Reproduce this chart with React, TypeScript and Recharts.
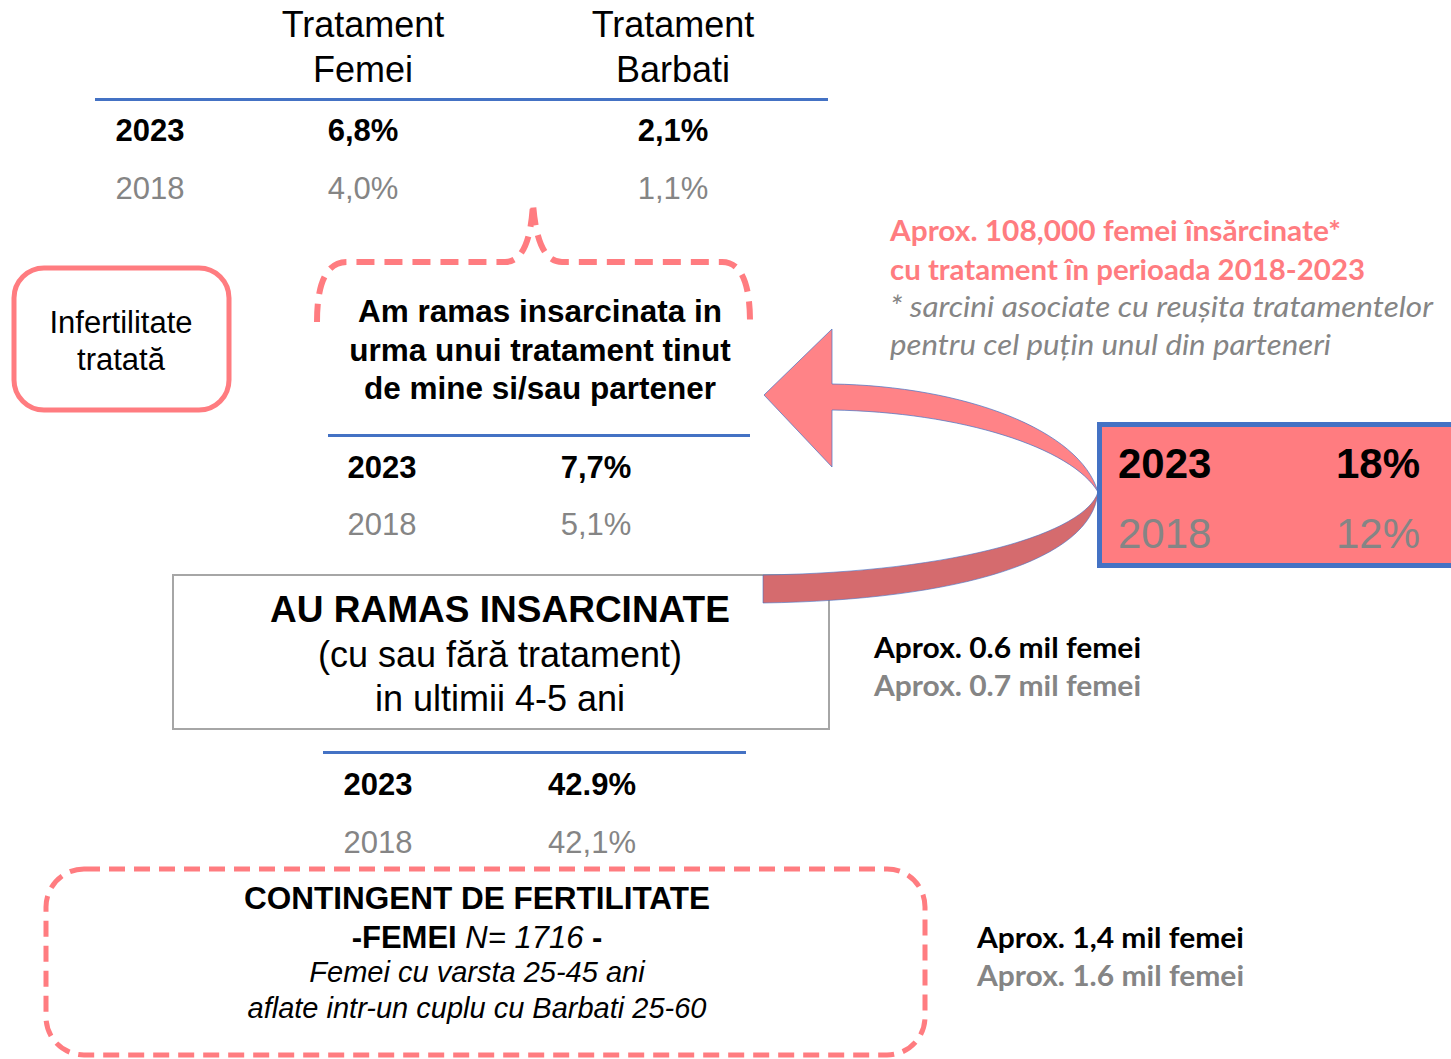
import React from 'react';
import { ComposedChart, Customized } from 'recharts';

document.body.style.margin = '0';

const years = ['2023', '2018'];
const treatmentHeaders = [['Tratament', 'Femei'], ['Tratament', 'Barbati']];
const womenTreatment = ['6,8%', '4,0%'];
const menTreatment = ['2,1%', '1,1%'];
const pregnantAfterTreatment = ['7,7%', '5,1%'];
const pregnantAll = ['42.9%', '42,1%'];
const treatedShare = ['18%', '12%'];
const pregnantCounts = ['Aprox. 0.6 mil femei', 'Aprox. 0.7 mil femei'];
const contingentCounts = ['Aprox. 1,4 mil femei', 'Aprox. 1.6 mil femei'];
const treatedNote = [
  'Aprox. 108,000 femei însărcinate*',
  'cu tratament în perioada 2018-2023',
  '* sarcini asociate cu reușita tratamentelor',
  'pentru cel puțin unul din parteneri',
];
// widths the Calibri lines take in the original
const noteWidths = [451, 475, 543, 441];

const PINK = '#FF7C80';
const BLUE = '#4472C4';
const GREY = '#858585';
const ARIAL = '"Liberation Sans", Arial, sans-serif';
const CALIBRI = 'Lato, "Open Sans", sans-serif';

const T = ({ x, y, size, bold = false, italic = false, color = '#000', anchor = 'middle', font = ARIAL, len, children }: any) => (
  <text
    x={x}
    y={y}
    fontSize={size}
    fontWeight={bold ? 700 : 400}
    fontStyle={italic ? 'italic' : 'normal'}
    fill={color}
    textAnchor={anchor}
    fontFamily={font}
    textLength={len}
    lengthAdjust={len ? 'spacingAndGlyphs' : undefined}
  >
    {children}
  </text>
);

// two-row year table: bold 2023, grey 2018
const YearRows = ({ yx, vx, y0, dy, values, size = 31 }: any) => (
  <g>
    {years.map((yr, i) => (
      <g key={yr}>
        <T x={yx} y={y0 + i * dy} size={size} bold={i === 0} color={i === 0 ? '#000' : GREY}>{yr}</T>
        {values.map((v: string[], j: number) => (
          <T key={j} x={vx[j]} y={y0 + i * dy} size={size} bold={i === 0} color={i === 0 ? '#000' : GREY}>{v[i]}</T>
        ))}
      </g>
    ))}
  </g>
);

const Infographic = () => (
  <g>
    {/* top table */}
    {treatmentHeaders.map((h, i) => (
      <g key={i}>
        <T x={[363, 673][i]} y={37} size={36}>{h[0]}</T>
        <T x={[363, 673][i]} y={82} size={36}>{h[1]}</T>
      </g>
    ))}
    <line x1={95} x2={828} y1={99.5} y2={99.5} stroke={BLUE} strokeWidth={3} />
    <YearRows yx={150} vx={[363, 673]} y0={141} dy={58} values={[womenTreatment, menTreatment]} />

    {/* dashed brace */}
    <path
      d="M 317 322 Q 317 262 347 262 L 505 262 Q 530 262 533 203 Q 537 262 562 262 L 722 262 Q 750 262 750 322"
      fill="none"
      stroke={PINK}
      strokeWidth={6}
      strokeDasharray="18 10"
    />

    {/* infertilitate box */}
    <rect x={14} y={268} width={215} height={142} rx={30} fill="#fff" stroke={PINK} strokeWidth={5} />
    <T x={121} y={333} size={31}>Infertilitate</T>
    <T x={121} y={370} size={31}>tratată</T>

    {/* middle block */}
    <T x={540} y={322} size={31.5} bold>Am ramas insarcinata in</T>
    <T x={540} y={361} size={31.5} bold>urma unui tratament tinut</T>
    <T x={540} y={399} size={31.5} bold>de mine si/sau partener</T>
    <line x1={328} x2={750} y1={435.5} y2={435.5} stroke={BLUE} strokeWidth={3} />
    <YearRows yx={382} vx={[596]} y0={478} dy={57} values={[pregnantAfterTreatment]} />

    {/* au ramas box */}
    <rect x={173} y={575} width={656} height={154} fill="#fff" stroke="#A6A6A6" strokeWidth={2} />
    <T x={500} y={622} size={37} bold>AU RAMAS INSARCINATE</T>
    <T x={500} y={667} size={36}>(cu sau fără tratament)</T>
    <T x={500} y={711} size={36}>in ultimii 4-5 ani</T>
    <line x1={323} x2={746} y1={752.5} y2={752.5} stroke={BLUE} strokeWidth={3} />
    <YearRows yx={378} vx={[592]} y0={795} dy={58} values={[pregnantAll]} />

    {/* curved arrow */}
    <path
      d="M 1098 492 C 1086 532 960 572 763 575 L 763 603 C 960 600 1092 560 1098 492 Z"
      fill="#D56B6E"
      stroke={BLUE}
      strokeWidth={1}
      strokeOpacity={0.6}
    />
    <path
      d="M 832 384 C 965 386 1080 430 1098 492 C 1072 448 962 412 832 410 L 832 467 L 764 395 L 832 329 Z"
      fill="#FF8387"
      stroke={BLUE}
      strokeWidth={1}
      strokeOpacity={0.7}
    />

    {/* red box */}
    <rect x={1099.5} y={424.5} width={360} height={141} fill={PINK} stroke={BLUE} strokeWidth={5} />
    {years.map((yr, i) => (
      <g key={yr}>
        <T x={1118} y={478 + i * 70} size={42} bold={i === 0} color={i === 0 ? '#000' : GREY} anchor="start">{yr}</T>
        <T x={1336} y={478 + i * 70} size={42} bold={i === 0} color={i === 0 ? '#000' : GREY} anchor="start">{treatedShare[i]}</T>
      </g>
    ))}

    {/* right notes */}
    {treatedNote.map((s, i) => (
      <T
        key={s}
        x={890}
        y={[241, 280, 317, 355][i]}
        size={29}
        bold={i < 2}
        italic={i >= 2}
        color={i < 2 ? PINK : GREY}
        anchor="start"
        font={CALIBRI}
        len={noteWidths[i]}
      >
        {s}
      </T>
    ))}

    {pregnantCounts.map((s, i) => (
      <T key={s} x={874} y={658 + i * 38} size={29} bold color={i === 0 ? '#000' : GREY} anchor="start" font={CALIBRI} len={267}>{s}</T>
    ))}
    {contingentCounts.map((s, i) => (
      <T key={s} x={977} y={948 + i * 38} size={29} bold color={i === 0 ? '#000' : GREY} anchor="start" font={CALIBRI} len={267}>{s}</T>
    ))}

    {/* contingent box */}
    <rect x={46} y={869} width={879} height={186} rx={38} fill="none" stroke={PINK} strokeWidth={5} strokeDasharray="16 9" />
    <T x={477} y={909} size={31.5} bold>CONTINGENT DE FERTILITATE</T>
    <text x={477} y={948} fontSize={31} textAnchor="middle" fontFamily={ARIAL}>
      <tspan fontWeight={700}>-FEMEI </tspan>
      <tspan fontStyle="italic">N= 1716 </tspan>
      <tspan fontWeight={700}>-</tspan>
    </text>
    <T x={477} y={982} size={29} italic>Femei cu varsta 25-45 ani</T>
    <T x={477} y={1018} size={29} italic>aflate intr-un cuplu cu Barbati 25-60</T>
  </g>
);

const rows = years.map((y, i) => ({
  year: y,
  women: womenTreatment[i],
  men: menTreatment[i],
  afterTreatment: pregnantAfterTreatment[i],
  all: pregnantAll[i],
  treated: treatedShare[i],
}));

export default function App() {
  return (
    <div style={{ width: 1451, height: 1059, background: '#fff' }}>
      <ComposedChart width={1451} height={1059} data={rows} margin={{ top: 0, right: 0, bottom: 0, left: 0 }}>
        <Customized component={Infographic} />
      </ComposedChart>
    </div>
  );
}
